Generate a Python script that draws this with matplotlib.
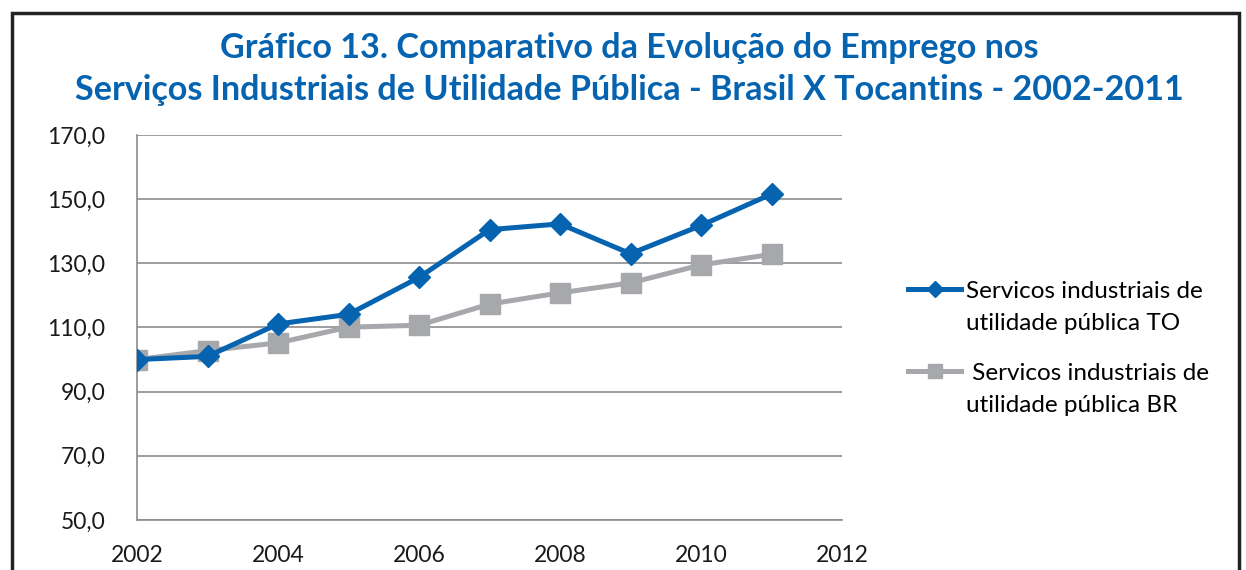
import matplotlib
matplotlib.use("Agg")
import numpy as np
import matplotlib.pyplot as plt
from matplotlib.patches import Rectangle
from matplotlib.ticker import FuncFormatter
from matplotlib.legend_handler import HandlerLine2D

years = [2002, 2003, 2004, 2005, 2006, 2007, 2008, 2009, 2010, 2011]
to_values = [100.0, 101.0, 111.1, 114.1, 125.6, 140.5, 142.3, 133.0, 141.8, 151.6]
br_values = [100.0, 102.8, 105.2, 110.1, 110.7, 117.3, 120.8, 123.9, 129.5, 132.8]
labels = ["Servicos industriais de\nutilidade pública TO",
          " Servicos industriais de\nutilidade pública BR"]
title1 = "Gráfico 13. Comparativo da Evolução do Emprego nos"
title2 = "Serviços Industriais de Utilidade Pública - Brasil X Tocantins - 2002-2011"

blue = "#0563B0"
gray = "#A7A8AB"


class UpHandler(HandlerLine2D):
    def __init__(self, dy, **kw):
        super().__init__(**kw)
        self.dy = dy

    def create_artists(self, legend, orig_handle, xdescent, ydescent, width, height, fontsize, trans):
        arts = super().create_artists(legend, orig_handle, xdescent, ydescent, width, height, fontsize, trans)
        for a in arts:
            a.set_ydata(np.asarray(a.get_ydata()) + self.dy)
        return arts


fig = plt.figure(figsize=(12.46, 5.7), dpi=100)
fig.patch.set_facecolor("white")
fig.patches.append(Rectangle((12/1246, -0.1), (1239-12)/1246, 1 - 13/570 + 0.1,
                             transform=fig.transFigure, fill=False,
                             edgecolor="#222222", linewidth=2.5))

ax = fig.add_axes([137/1246, 1 - 520/570, (842-137)/1246, (520-135)/570])
l1, = ax.plot(years, to_values, color=blue, lw=3.6, marker="D", ms=11, label=labels[0], zorder=3)
l2, = ax.plot(years, br_values, color=gray, lw=3.6, marker="s", ms=14.5, label=labels[1], zorder=2)

ax.set_xlim(2002, 2012)
ax.set_ylim(50, 170)
ax.set_xticks(range(2002, 2013, 2))
ax.set_yticks(range(50, 171, 20))
ax.yaxis.set_major_formatter(FuncFormatter(lambda v, p: f"{v:.1f}".replace(".", ",")))
ax.grid(axis="y", color="#8C8C8C", lw=1.2)
ax.set_axisbelow(True)
for s in ["top", "right"]:
    ax.spines[s].set_visible(False)
for s in ["left", "bottom"]:
    ax.spines[s].set_color("#8C8C8C")
    ax.spines[s].set_linewidth(1.2)
ax.tick_params(length=0, labelsize=16.5, colors="#1a1a1a")
ax.tick_params(axis="y", pad=23)
ax.tick_params(axis="x", pad=18)
for t in ax.get_xticklabels() + ax.get_yticklabels():
    t.set_fontfamily("Lato")

fig.legend(handles=[l1, l2], loc="upper left", bbox_to_anchor=(908/1246, 1 - 281/570),
           frameon=False, prop={"family": "Lato", "size": 17.5}, handlelength=2.2,
           handletextpad=0.18, labelspacing=1.22, borderpad=0, borderaxespad=0,
           markerscale=0.72,
           handler_map={l1: UpHandler(13.5), l2: UpHandler(13.5)})
for t in fig.legends[0].get_texts():
    t.set_linespacing(1.62)

fig.text(629/1246, 1 - 48/570, title1, ha="center", va="center", color=blue,
         fontsize=24.6, fontweight="bold", family="Lato")
fig.text(629/1246, 1 - 90/570, title2, ha="center", va="center", color=blue,
         fontsize=24.6, fontweight="bold", family="Lato")

fig.savefig("out.png", dpi=100, facecolor="white")
